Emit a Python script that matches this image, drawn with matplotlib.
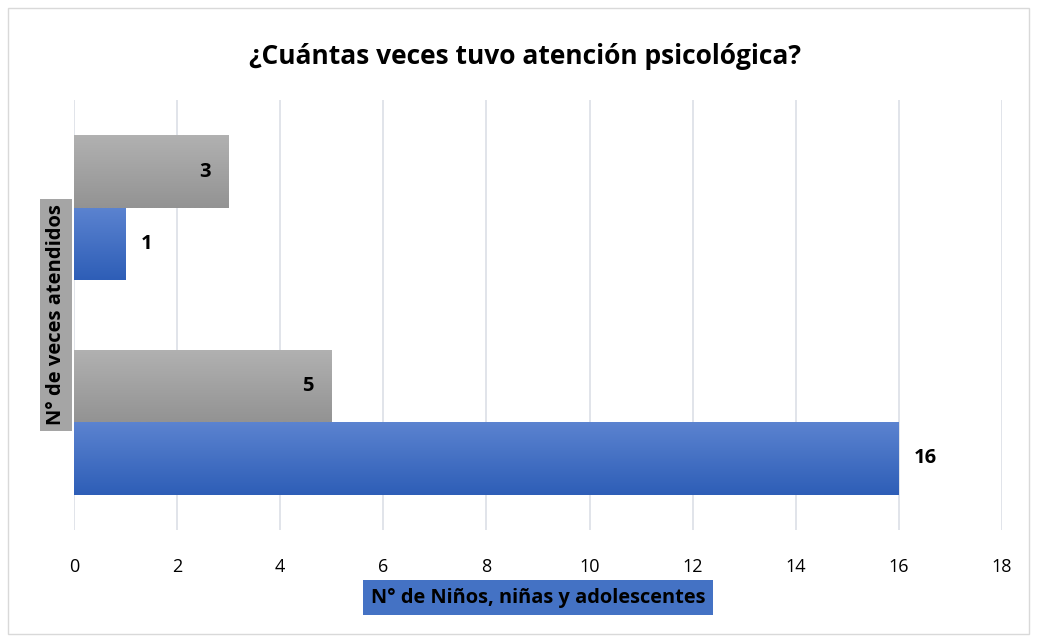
import matplotlib.pyplot as plt
import numpy as np
from matplotlib.patches import Rectangle

# Data
groups = ["Grupo A", "Grupo B"]          # category labels are hidden in the original
blue_values = [1, 16]
gray_values = [3, 5]
group_pos = [1, 0]                         # top group, bottom group

X_TICKS = np.arange(0, 19, 2)
BAR_H = 0.335

plt.rcParams['font.family'] = ['Open Sans', 'DejaVu Sans']

fig = plt.figure(figsize=(10.37, 6.42), dpi=100)
ax = fig.add_axes([0.0714, 0.1745, 0.8948, 0.6697])

pos = np.array(group_pos, dtype=float)
gray_bars = ax.barh(pos + BAR_H / 2, gray_values, height=BAR_H, color="#a5a5a5", zorder=2)
blue_bars = ax.barh(pos - BAR_H / 2, blue_values, height=BAR_H, color="#4472c4", zorder=2)


# vertical gradient fill, clipped to each bar
def add_gradient(bars, top_col, bot_col):
    top = np.array(plt.matplotlib.colors.to_rgb(top_col))
    bot = np.array(plt.matplotlib.colors.to_rgb(bot_col))
    t = np.linspace(0, 1, 64)[:, None]
    grad = (top * (1 - t) + bot * t)[:, None, :]
    for b in bars:
        x0, y0 = b.get_x(), b.get_y()
        w, h = b.get_width(), b.get_height()
        im = ax.imshow(grad, extent=(x0, x0 + w, y0, y0 + h), origin="upper",
                       aspect="auto", zorder=2.5, interpolation="bilinear")
        im.set_clip_path(b)


add_gradient(gray_bars, "#b1b1b1", "#939393")
add_gradient(blue_bars, "#5b83d0", "#2e5eb7")

# value labels: gray inside end, blue outside end
for b, v in zip(gray_bars, gray_values):
    ax.annotate(str(v), (b.get_width(), b.get_y() + b.get_height() / 2),
                xytext=(-13, 0), textcoords="offset points", ha="right", va="center",
                fontsize=14.5, fontweight="bold", zorder=4)
for b, v in zip(blue_bars, blue_values):
    ax.annotate(str(v), (b.get_width(), b.get_y() + b.get_height() / 2),
                xytext=(11, 0), textcoords="offset points", ha="left", va="center",
                fontsize=14.5, fontweight="bold", zorder=4)

ax.set_xlim(0, 18)
ax.set_ylim(-0.5, 1.5)
ax.set_xticks(X_TICKS)
ax.set_yticks([])
ax.tick_params(axis="x", length=0, labelsize=13, pad=20)
ax.grid(axis="x", color="#dcdfe6", linewidth=1.2, zorder=0)
for s in ax.spines.values():
    s.set_visible(False)

ax.set_title("¿Cuántas veces tuvo atención psicológica?", fontsize=19,
             fontweight="bold", pad=26, x=0.486)

fig.text(0.5188, 0.0693, "N° de Niños, niñas y adolescentes", fontsize=14.4,
         fontweight="bold", ha="center", va="center",
         bbox=dict(boxstyle="square,pad=0.38", fc="#4472c4", ec="none"))
ax.text(-0.0194, 0.5, "N° de veces atendidos", transform=ax.transAxes,
        rotation=90, fontsize=14.5, fontweight="bold", ha="center", va="center",
        bbox=dict(boxstyle="square,pad=0.3", fc="#a5a5a5", ec="none"), zorder=5)

# light outer border of the chart
fig.patches.append(Rectangle((0.008, 0.012), 0.984, 0.976, transform=fig.transFigure,
                             fill=False, ec="#d9d9d9", lw=1))

fig.savefig("out.png", dpi=100)
